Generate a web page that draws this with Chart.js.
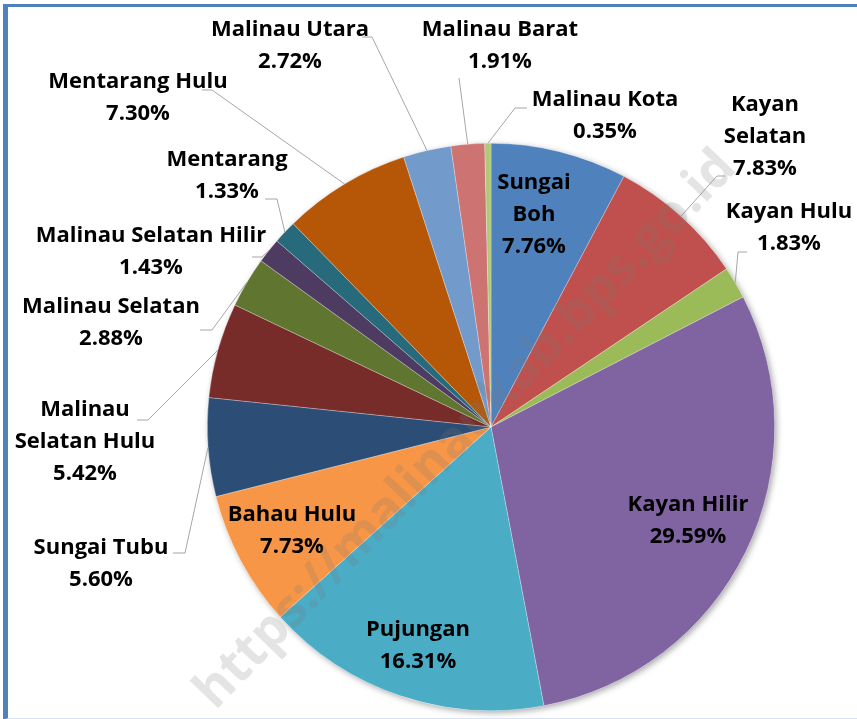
<!DOCTYPE html>
<html>
<head>
<meta charset="utf-8">
<script src="https://cdn.jsdelivr.net/npm/chart.js@4"></script>
<style>
  html, body { margin: 0; padding: 0; background: #fff; }
  #wrap { position: relative; width: 857px; height: 719px; overflow: hidden; }
  #frame {
    position: absolute; left: 3px; top: 4px; width: 900px; height: 711px;
    border-left: 5px solid #4F81BD; border-top: 3px solid #4F81BD;
    border-bottom: 2px solid #dae3f3; pointer-events: none;
  }
</style>
</head>
<body>
<div id="wrap">
  <canvas id="chart"></canvas>
  <div id="frame"></div>
</div>
<script>
// Data
const kecamatan = [
  "Sungai Boh", "Kayan Selatan", "Kayan Hulu", "Kayan Hilir", "Pujungan",
  "Bahau Hulu", "Sungai Tubu", "Malinau Selatan Hulu", "Malinau Selatan",
  "Malinau Selatan Hilir", "Mentarang", "Mentarang Hulu", "Malinau Utara",
  "Malinau Barat", "Malinau Kota"
];
const persen = [7.76, 7.83, 1.83, 29.59, 16.31, 7.73, 5.60, 5.42, 2.88, 1.43, 1.33, 7.30, 2.72, 1.91, 0.35];
const warna = [
  "#4F81BD", "#C0504D", "#9BBB59", "#8064A2", "#4BACC6",
  "#F79646", "#2C4D75", "#772C2A", "#5F7530", "#4D3B62",
  "#276A7C", "#B65708", "#729ACA", "#CD7371", "#AFC97A"
];

// Placement des étiquettes (centre de la 1re ligne, coupure, ligne de rappel)
const labelLayout = [
  { x: 534, y: 183, split: [1, 2] },
  { x: 765, y: 105, split: [1, 2], lead: [[725, 176], [717, 176]] },
  { x: 789, y: 212, split: [2], lead: [[747, 252], [738, 252]] },
  { x: 688, y: 505, split: [2] },
  { x: 418, y: 630, split: [1] },
  { x: 292, y: 515, split: [2] },
  { x: 101, y: 548, split: [2], lead: [[173, 553], [185, 553]] },
  { x: 85, y: 410, split: [1, 3], lead: [[137, 420], [148, 420]] },
  { x: 111, y: 307, split: [2], lead: [[200, 330], [212, 330]] },
  { x: 151, y: 236, split: [3], lead: [[252, 257], [262, 257]] },
  { x: 227, y: 160, split: [1], lead: [[265, 199], [277, 199]] },
  { x: 138, y: 82, split: [2], lead: [[202, 90], [212, 90]] },
  { x: 290, y: 30, split: [2], lead: [[362, 37], [372, 37]] },
  { x: 500, y: 30, split: [2], lead: [[459, 78], [459, 78]] },
  { x: 605, y: 100, split: [2], lead: [[527, 108], [515, 108]] }
];
const LINE_H = 32;
const FONT = "bold 22px 'Open Sans', sans-serif";

function labelLines(i) {
  const words = kecamatan[i].split(" ");
  const cuts = labelLayout[i].split;
  const lines = [];
  let prev = 0;
  cuts.forEach((c) => {
    lines.push(words.slice(prev, c).join(" "));
    prev = c;
  });
  lines.push(persen[i].toFixed(2) + "%");
  return lines;
}

// Ombre sous le camembert
const shadowPlugin = {
  id: "shadow",
  beforeDatasetsDraw(chart) {
    const arc = chart.getDatasetMeta(0).data[0];
    if (!arc) return;
    const ctx = chart.ctx;
    ctx.save();
    ctx.shadowColor = "rgba(0,0,0,0.35)";
    ctx.shadowBlur = 6;
    ctx.shadowOffsetX = 2;
    ctx.shadowOffsetY = 2;
    ctx.fillStyle = "#fff";
    ctx.beginPath();
    ctx.arc(arc.x, arc.y, arc.outerRadius, 0, Math.PI * 2);
    ctx.fill();
    ctx.restore();
  }
};

// Étiquettes et lignes de rappel
const labelPlugin = {
  id: "labels",
  afterDatasetsDraw(chart) {
    const ctx = chart.ctx;
    const arcs = chart.getDatasetMeta(0).data;
    ctx.save();
    arcs.forEach((arc, i) => {
      const lay = labelLayout[i];
      if (lay.lead) {
        const mid = (arc.startAngle + arc.endAngle) / 2;
        const ex = arc.x + Math.cos(mid) * arc.outerRadius;
        const ey = arc.y + Math.sin(mid) * arc.outerRadius;
        ctx.strokeStyle = "#A6A6A6";
        ctx.lineWidth = 1;
        ctx.beginPath();
        ctx.moveTo(lay.lead[0][0], lay.lead[0][1]);
        ctx.lineTo(lay.lead[1][0], lay.lead[1][1]);
        ctx.lineTo(ex, ey);
        ctx.stroke();
      }
      ctx.font = FONT;
      ctx.fillStyle = "#000";
      ctx.textAlign = "center";
      ctx.textBaseline = "middle";
      labelLines(i).forEach((t, k) => {
        ctx.fillText(t, lay.x, lay.y + k * LINE_H);
      });
    });
    ctx.restore();
  }
};

// Filigrane
const watermarkPlugin = {
  id: "watermark",
  afterDraw(chart) {
    const ctx = chart.ctx;
    ctx.save();
    ctx.translate(466, 430);
    ctx.rotate(-46 * Math.PI / 180);
    ctx.font = "bold 52px 'Open Sans', sans-serif";
    ctx.fillStyle = "rgba(120,120,120,0.2)";
    ctx.textAlign = "center";
    ctx.textBaseline = "middle";
    ctx.fillText("https://malinaukab.bps.go.id", 0, 0);
    ctx.restore();
  }
};

const chart = new Chart(document.getElementById("chart"), {
  type: "pie",
  data: {
    labels: kecamatan,
    datasets: [{
      data: persen,
      backgroundColor: warna,
      borderColor: "rgba(255,255,255,0.45)",
      borderWidth: 0.6
    }]
  },
  options: {
    responsive: true,
    maintainAspectRatio: false,
    animation: false,
    layout: { padding: { top: 143, bottom: 8, left: 207, right: 82 } },
    plugins: {
      legend: { display: false },
      tooltip: { enabled: false }
    }
  },
  plugins: [shadowPlugin, labelPlugin, watermarkPlugin]
});
</script>
</body>
</html>
